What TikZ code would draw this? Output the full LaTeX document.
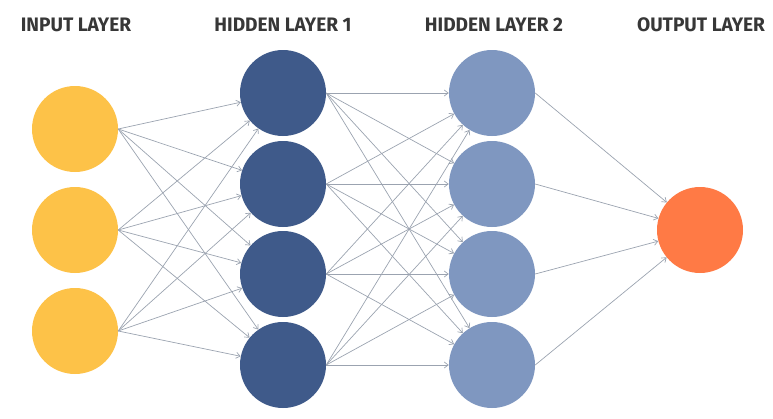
\documentclass[tikz,border=0pt]{standalone}
\usepackage{fontspec}
\setmainfont{Fira Sans}[FakeStretch=0.98]
\usetikzlibrary{arrows.meta}
\definecolor{inyellow}{RGB}{253,194,72}
\definecolor{hidA}{RGB}{63,90,138}
\definecolor{hidB}{RGB}{127,151,192}
\definecolor{outorange}{RGB}{255,122,69}
\definecolor{edgegray}{RGB}{155,163,176}
\definecolor{labelgray}{RGB}{55,55,55}
\tikzset{
  neuron/.style={circle, minimum size=86pt, inner sep=0pt, draw=none},
  conn/.style={draw=edgegray, line width=0.7pt, -{Straight Barb[length=4pt,width=6pt]}},
  layerlabel/.style={font=\fontsize{19.5}{20}\selectfont\bfseries, text=labelgray, inner sep=0pt}
}
\begin{document}
\begin{tikzpicture}[x=1pt,y=-1pt]
\useasboundingbox (0,0) rectangle (773,418);
\node[layerlabel] (l0) at (76,25) {INPUT LAYER};
\node[layerlabel] (l1) at (283,25) {HIDDEN LAYER 1};
\node[layerlabel] (l2) at (494,25) {HIDDEN LAYER 2};
\node[layerlabel] (l3) at (701,25) {OUTPUT LAYER};
\foreach \i/\y in {1/129,2/230,3/331}
  \node[neuron, fill=inyellow] (i\i) at (75,\y) {};
\foreach \i/\y in {1/93,2/184,3/274,4/365}{
  \node[neuron, fill=hidA] (a\i) at (283,\y) {};
  \node[neuron, fill=hidB] (b\i) at (492,\y) {};
}
\node[neuron, fill=outorange] (o) at (700,230) {};
\foreach \s in {1,2,3}
  \foreach \t in {1,2,3,4}
    \draw[conn] (i\s.east) -- (a\t);
\foreach \s in {1,2,3,4}
  \foreach \t in {1,2,3,4}
    \draw[conn] (a\s.east) -- (b\t);
\foreach \s in {1,2,3,4}
  \draw[conn] (b\s.east) -- (o);
\end{tikzpicture}
\end{document}
